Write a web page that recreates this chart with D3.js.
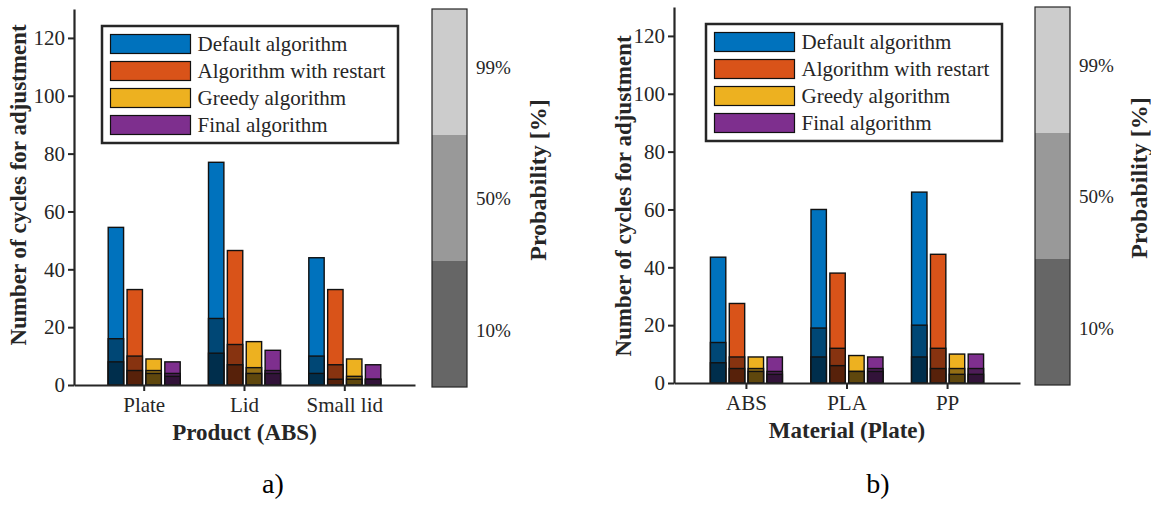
<!DOCTYPE html>
<html>
<head>
<meta charset="utf-8">
<script src="https://cdn.jsdelivr.net/npm/d3@7"></script>
<style>
  body { margin: 0; background: #fff; }
  text { font-family: "Liberation Serif", "Times New Roman", serif; }
</style>
</head>
<body>
<script>
const width = 1151;
const height = 505;

const series = ["Default algorithm", "Algorithm with restart", "Greedy algorithm", "Final algorithm"];
const colors = ["#0072BD", "#D95319", "#EDB120", "#7E2F8E"];

const products = ["Plate", "Lid", "Small lid"];
const product99 = [[54.5, 33, 9, 8], [77, 46.5, 15, 12], [44, 33, 9, 7]];
const product50 = [[16, 10, 5, 4], [23, 14, 6, 5], [10, 7, 3, 2]];
const product10 = [[8, 5, 4, 3], [11, 7, 4, 4], [4, 2, 2, 2]];

const materials = ["ABS", "PLA", "PP"];
const material99 = [[43.5, 27.5, 9, 9], [60, 38, 9.5, 9], [66, 44.5, 10, 10]];
const material50 = [[14, 9, 5, 4], [19, 12, 4, 5], [20, 12, 5, 5]];
const material10 = [[7, 5, 4, 3], [9, 6, 4, 4], [9, 5, 3, 3]];

const yTicks = [0, 20, 40, 60, 80, 100, 120];
const probLabels = ["10%", "50%", "99%"];
const probLabelPos = [0.45, 1.5, 2.54];
const probShades = ["#666666", "#999999", "#cccccc"];

const svg = d3.select('body').append('svg').attr('width', width).attr('height', height);

// darker shades for the 50% / 10% parts of each bar
function shade(c, k) {
  const r = d3.rgb(c);
  return d3.rgb(r.r * k, r.g * k, r.b * k).formatHex();
}

function panel(o) {
  const g = svg.append('g');
  const x = d3.scaleBand().domain(o.cats).range([o.x0, o.x1]).paddingInner(0).paddingOuter(o.pad);
  const xs = d3.scaleBand().domain(series).range([-36, 36]).paddingInner(0.185);
  const y = d3.scaleLinear().domain([0, 130]).range([o.yb, o.yt]);

  // bars: 99% full, then 50% and 10% on top
  const layers = [[o.v99, 1], [o.v50, 0.62], [o.v10, 0.4]];
  layers.forEach(([vals, k]) => {
    const rows = [];
    o.cats.forEach((c, i) => series.forEach((s, j) => rows.push({c, s, j, v: vals[i][j]})));
    g.selectAll(null).data(rows).enter().append('rect')
      .attr('x', d => x(d.c) + x.bandwidth() / 2 + xs(d.s))
      .attr('width', xs.bandwidth())
      .attr('y', d => y(d.v))
      .attr('height', d => y(0) - y(d.v))
      .attr('fill', d => shade(colors[d.j], k))
      .attr('stroke', '#111')
      .attr('stroke-width', 1.4);
  });

  // axes
  const yAxis = d3.axisLeft(y).tickValues(yTicks).tickSize(6).tickSizeOuter(0);
  const ya = g.append('g').attr('transform', `translate(${o.x0},0)`).call(yAxis);
  const xAxis = d3.axisBottom(x).tickSize(6).tickSizeOuter(0);
  const xa = g.append('g').attr('transform', `translate(0,${o.yb})`).call(xAxis);
  [ya, xa].forEach(a => {
    a.select('.domain').attr('stroke', '#262626').attr('stroke-width', 2.2);
    a.selectAll('.tick line').attr('stroke', '#262626').attr('stroke-width', 2);
    a.selectAll('.tick text').attr('fill', '#262626').style('font-size', '21px')
      .style('font-family', '"Liberation Serif", serif');
  });
  ya.selectAll('.tick text').attr('x', -9);
  xa.selectAll('.tick text').attr('y', 12);

  g.append('text').attr('transform', `translate(${o.ytx},${o.yty}) rotate(-90)`)
    .attr('text-anchor', 'middle').attr('font-weight', 'bold').attr('font-size', 23)
    .attr('fill', '#262626').text('Number of cycles for adjustment');
  g.append('text').attr('x', (o.x0 + o.x1) / 2).attr('y', o.yb + 55)
    .attr('text-anchor', 'middle').attr('font-weight', 'bold').attr('font-size', 23)
    .attr('fill', '#262626').text(o.xTitle);
  g.append('text').attr('x', o.tagX).attr('y', 493)
    .attr('text-anchor', 'middle').attr('font-size', 28).attr('fill', '#000').text(o.tag);

  // legend
  const lg = g.append('g').attr('transform', `translate(${o.lx},${o.ly})`);
  lg.append('rect').attr('width', 296).attr('height', 117)
    .attr('fill', '#fff').attr('stroke', '#262626').attr('stroke-width', 2.5);
  const li = lg.selectAll(null).data(series).enter().append('g')
    .attr('transform', (d, i) => `translate(8.5,${8.5 + i * 27})`);
  li.append('rect').attr('width', 80).attr('height', 19)
    .attr('fill', (d, i) => colors[i]).attr('stroke', '#111').attr('stroke-width', 1.2);
  li.append('text').attr('x', 87).attr('y', 16).attr('font-size', 21).attr('fill', '#262626').text(d => d);

  // probability colour bar
  const cb = d3.scaleLinear().domain([0, 3]).range([o.yb + 2, o.yt]);
  const cg = g.append('g');
  cg.selectAll(null).data(probShades).enter().append('rect')
    .attr('x', o.cbx).attr('width', 35)
    .attr('y', (d, i) => cb(i + 1)).attr('height', (d, i) => cb(i) - cb(i + 1))
    .attr('fill', d => d);
  cg.append('rect').attr('x', o.cbx).attr('y', o.yt).attr('width', 35).attr('height', cb(0) - cb(3))
    .attr('fill', 'none').attr('stroke', '#262626').attr('stroke-width', 1.2);
  cg.selectAll(null).data(probLabels).enter().append('text')
    .attr('x', o.cbx + 44).attr('y', (d, i) => cb(probLabelPos[i]) + 7)
    .attr('font-size', 19).attr('fill', '#262626').text(d => d);
  cg.append('text').attr('transform', `translate(${o.ptx},${o.pty}) rotate(-90)`)
    .attr('text-anchor', 'middle').attr('font-weight', 'bold').attr('font-size', 24)
    .attr('fill', '#262626').text('Probability [%]');
}

panel({
  cats: products, v99: product99, v50: product50, v10: product10,
  x0: 74, x1: 415, pad: 0.2, yb: 385, yt: 9,
  ytx: 26, yty: 185, xTitle: 'Product (ABS)', tag: 'a)', tagX: 273,
  lx: 102, ly: 26, cbx: 432, ptx: 546, pty: 180
});
panel({
  cats: materials, v99: material99, v50: material50, v10: material10,
  x0: 674, x1: 1020, pad: 0.22, yb: 383, yt: 7,
  ytx: 631, yty: 196, xTitle: 'Material (Plate)', tag: 'b)', tagX: 878,
  lx: 706, ly: 24, cbx: 1035, ptx: 1147, pty: 178
});
</script>
</body>
</html>
